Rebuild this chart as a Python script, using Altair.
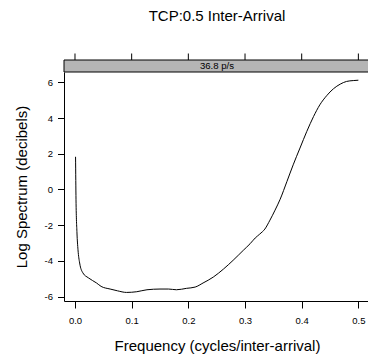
import altair as alt
import pandas as pd

# ---- data ----
freq = [0.001, 0.0018, 0.0035, 0.0053, 0.0082, 0.014, 0.0235, 0.038, 0.046, 0.062,
        0.075, 0.091, 0.109, 0.127, 0.15, 0.165, 0.179, 0.197, 0.212, 0.226,
        0.244, 0.262, 0.279, 0.297, 0.309, 0.318, 0.326, 0.335, 0.344, 0.353,
        0.362, 0.374, 0.385, 0.397, 0.409, 0.421, 0.432, 0.444, 0.456, 0.468,
        0.479, 0.491, 0.5]
spec = [1.83, -0.58, -2.44, -3.38, -4.12, -4.68, -4.95, -5.24, -5.43, -5.58,
        -5.68, -5.77, -5.73, -5.62, -5.58, -5.58, -5.62, -5.54, -5.47, -5.24,
        -4.91, -4.46, -3.97, -3.41, -3.04, -2.72, -2.50, -2.22, -1.72, -1.16,
        -0.55, 0.45, 1.38, 2.32, 3.25, 4.09, 4.74, 5.25, 5.64, 5.90,
        6.05, 6.10, 6.12]
x_ticks = [0.0, 0.1, 0.2, 0.3, 0.4, 0.5]
y_ticks = [-6, -4, -2, 0, 2, 4, 6]
title_text = "TCP:0.5 Inter-Arrival"
strip_label = "36.8 p/s"
x_title = "Frequency (cycles/inter-arrival)"
y_title = "Log Spectrum (decibels)"

FONT = "Liberation Sans"
W, H = 304, 229

df = pd.DataFrame({"freq": freq, "spec": spec})
xscale = alt.Scale(domain=[-0.0194, 0.5170], nice=False, zero=False)
yscale = alt.Scale(domain=[-6.25, 6.58], nice=False, zero=False)

line = alt.Chart(df).mark_line(color="black", strokeWidth=1, interpolate="monotone").encode(
    x=alt.X("freq:Q", scale=xscale,
            axis=alt.Axis(values=x_ticks, labelExpr="format(datum.value, '.1f')",
                          title=x_title, grid=False, tickSize=7, labelPadding=7,
                          labelFlush=False, domainColor="black", tickColor="black",
                          labelColor="black", labelFont=FONT, labelFontSize=9.5,
                          titleFont=FONT, titleFontSize=15, titleFontWeight="normal",
                          titleColor="black", titleX=W / 2 + 1, titleY=49,
                          titleBaseline="alphabetic")),
    y=alt.Y("spec:Q", scale=yscale,
            axis=alt.Axis(values=y_ticks, labelExpr="'' + datum.value",
                          title=y_title, grid=False, tickSize=6.5, labelPadding=5,
                          labelFlush=False, domainColor="black", tickColor="black",
                          labelColor="black", labelFont=FONT, labelFontSize=9.5,
                          titleFont=FONT, titleFontSize=15, titleFontWeight="normal",
                          titleColor="black", titleX=-38, titleY=H / 2,
                          titleAngle=270, titleBaseline="alphabetic")),
)

lab = pd.DataFrame({"label": [strip_label], "title": [title_text]})

strip = alt.Chart(lab).mark_rect(fill="#b5b5b5", stroke="black", strokeWidth=1).encode(
    x=alt.value(0), x2=alt.value(W + 10), y=alt.value(-12), y2=alt.value(0)
)
strip_text = alt.Chart(lab).mark_text(font=FONT, fontSize=9.6, baseline="middle",
                                      color="black").encode(
    x=alt.value(153), y=alt.value(-5.8), text="label:N"
)
title = alt.Chart(lab).mark_text(font=FONT, fontSize=15, baseline="alphabetic",
                                 color="black").encode(
    x=alt.value(153), y=alt.value(-50.6), text="title:N"
)
top_ticks = alt.Chart(pd.DataFrame({"t": x_ticks})).mark_rule(color="black", strokeWidth=1).encode(
    x=alt.X("t:Q", scale=xscale),
    y=alt.value(-18.5), y2=alt.value(-12)
)

chart = alt.layer(strip, strip_text, title, top_ticks, line).properties(
    width=W, height=H,
    autosize=alt.AutoSizeParams(type="none"),
    padding={"left": 64, "top": 72, "right": 0, "bottom": 57},
    background="white",
).configure_view(stroke=None)

chart.save("out.html", embed_options={"renderer": "svg", "actions": False})
